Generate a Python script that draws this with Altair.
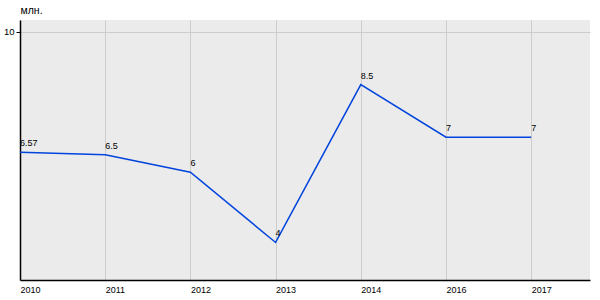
import json
import altair as alt
import pandas as pd

years = ["2010", "2011", "2012", "2013", "2014", "2016", "2017"]
values = [6.57, 6.5, 6, 4, 8.5, 7, 7]
labels = ["6.57", "6.5", "6", "4", "8.5", "7", "7"]

df = pd.DataFrame({"idx": list(range(len(years))), "year": years, "value": values, "label": labels})

label_expr = json.dumps(years) + "[datum.value]"

x = alt.X("idx:Q", scale=alt.Scale(domain=[0, 6.69], nice=False, zero=False),
          axis=alt.Axis(values=list(range(len(years))), labelExpr=label_expr, title=None,
                        ticks=False, grid=True, gridColor="#cccccc", gridWidth=1,
                        domainColor="#000000", domainWidth=1.5, labelAlign="left",
                        labelFont="Liberation Sans", labelFontSize=9, labelColor="#000000",
                        labelPadding=5, labelFlush=False))
y = alt.Y("value:Q", scale=alt.Scale(domain=[2.93, 10.34], nice=False, zero=False),
          axis=alt.Axis(values=[10], title="млн.", titleAngle=0, titleX=0, titleY=-5,
                        titleAlign="left", titleBaseline="bottom", titleFont="Liberation Sans",
                        titleFontSize=10.5, titleFontWeight="normal", titleColor="#000000",
                        grid=True, gridColor="#cccccc", gridWidth=1, domainColor="#000000",
                        domainWidth=1.5, tickColor="#000000", tickSize=4, labelPadding=2,
                        labelFont="Liberation Sans", labelFontSize=9.5, labelColor="#000000"))

base = alt.Chart(df)
line = base.mark_line(color="#0044dd", strokeWidth=1.5).encode(x=x, y=y)
text = base.mark_text(align="left", baseline="bottom", dx=0, dy=-4, font="Liberation Sans",
                      fontSize=9, color="#000000").encode(x="idx:Q", y="value:Q", text="label:N")

chart = (line + text).properties(
    width=570, height=260,
    autosize=alt.AutoSizeParams(type="none"),
    padding={"left": 20, "top": 20, "right": 10, "bottom": 20},
    background="#ffffff",
).configure_view(fill="#ebebeb", stroke=None)

chart.save("out.html", embed_options={"renderer": "svg", "actions": False})
